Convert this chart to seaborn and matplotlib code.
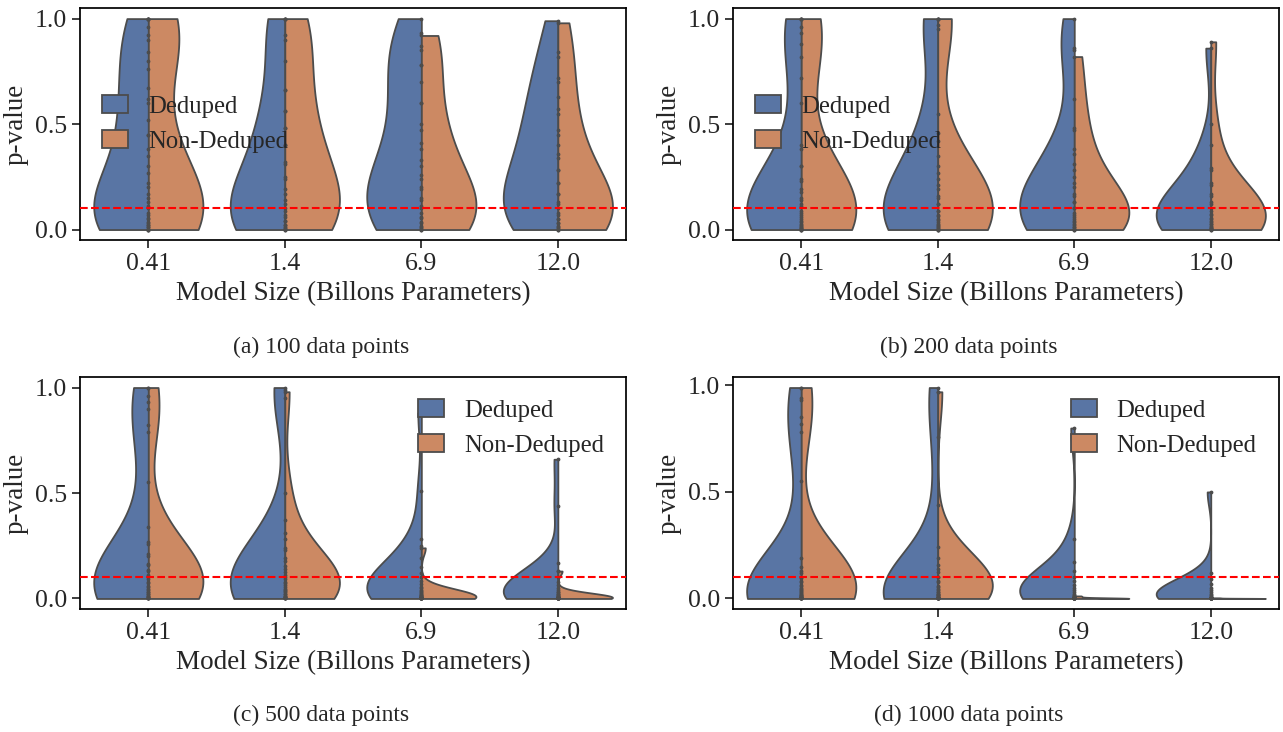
import matplotlib
matplotlib.use("Agg")
import matplotlib.pyplot as plt
import seaborn as sns
import pandas as pd

# ---------------- data ----------------
sizes = ["0.41", "1.4", "6.9", "12.0"]
groups = ["Deduped", "Non-Deduped"]
captions = ["(a) 100 data points", "(b) 200 data points",
            "(c) 500 data points", "(d) 1000 data points"]
threshold = 0.1

# (a) 100 data points
a_041_d = [0.0, 0.0, 0.01, 0.02, 0.03, 0.05, 0.07, 0.1, 0.13, 0.17, 0.22, 0.3, 0.38, 0.45, 0.52, 0.6, 0.67, 0.76, 0.84, 0.92, 1.0, 1.0]
a_041_n = [0.0, 0.003, 0.01, 0.02, 0.035, 0.055, 0.08, 0.11, 0.15, 0.2, 0.27, 0.35, 0.45, 0.62, 0.8, 0.9, 0.96, 1.0, 1.0, 1.0]
a_14_d = [0.0, 0.003, 0.01, 0.02, 0.04, 0.06, 0.09, 0.12, 0.17, 0.24, 0.31, 0.4, 0.48, 0.56, 0.66, 0.9, 1.0, 1.0]
a_14_n = [0.0, 0.006, 0.02, 0.04, 0.07, 0.1, 0.14, 0.19, 0.25, 0.32, 0.4, 0.48, 0.56, 0.66, 0.8, 0.92, 1.0, 1.0]
a_69_d = [0.0, 0.01, 0.03, 0.06, 0.1, 0.14, 0.19, 0.24, 0.3, 0.38, 0.47, 0.6, 0.7, 0.78, 0.85, 0.93, 1.0]
a_69_n = [0.0, 0.006, 0.018, 0.035, 0.055, 0.08, 0.11, 0.15, 0.2, 0.26, 0.33, 0.41, 0.5, 0.6, 0.78, 0.87, 0.92]
a_120_d = [0.0, 0.01, 0.03, 0.05, 0.08, 0.12, 0.17, 0.22, 0.28, 0.34, 0.4, 0.47, 0.55, 0.63, 0.72, 0.82, 0.99]
a_120_n = [0.0, 0.005, 0.015, 0.03, 0.05, 0.07, 0.1, 0.13, 0.17, 0.22, 0.28, 0.36, 0.45, 0.57, 0.7, 0.84, 0.98]

# (b) 200 data points
b_041_d = [0.0, 0.0, 0.005, 0.01, 0.02, 0.035, 0.05, 0.07, 0.09, 0.12, 0.15, 0.19, 0.24, 0.3, 0.38, 0.6, 0.82, 0.93, 1.0, 1.0]
b_041_n = [0.0, 0.002, 0.008, 0.015, 0.025, 0.04, 0.06, 0.08, 0.11, 0.14, 0.18, 0.23, 0.3, 0.4, 0.72, 0.88, 0.96, 1.0, 1.0]
b_14_d = [0.0, 0.0, 0.006, 0.015, 0.028, 0.045, 0.065, 0.09, 0.12, 0.16, 0.21, 0.27, 0.35, 0.46, 0.55, 0.95, 1.0, 1.0]
b_14_n = [0.0, 0.003, 0.01, 0.02, 0.035, 0.05, 0.07, 0.09, 0.12, 0.15, 0.19, 0.24, 0.3, 0.42, 0.97, 1.0, 1.0]
b_69_d = [0.0, 0.004, 0.012, 0.025, 0.04, 0.06, 0.08, 0.1, 0.13, 0.16, 0.2, 0.25, 0.31, 0.38, 0.47, 0.85, 0.86, 1.0]
b_69_n = [0.0, 0.003, 0.01, 0.02, 0.035, 0.05, 0.07, 0.1, 0.13, 0.17, 0.22, 0.28, 0.36, 0.48, 0.62, 0.82]
b_120_d = [0.0, 0.002, 0.008, 0.016, 0.027, 0.04, 0.055, 0.075, 0.1, 0.13, 0.17, 0.22, 0.29, 0.4, 0.86]
b_120_n = [0.0, 0.002, 0.007, 0.014, 0.024, 0.036, 0.05, 0.068, 0.09, 0.12, 0.16, 0.21, 0.28, 0.5, 0.89]

# (c) 500 data points
c_041_d = [0.0, 0.0, 0.003, 0.01, 0.02, 0.03, 0.045, 0.06, 0.08, 0.1, 0.13, 0.16, 0.21, 0.27, 0.55, 0.79, 0.9, 0.96, 1.0]
c_041_n = [0.0, 0.002, 0.006, 0.012, 0.02, 0.03, 0.042, 0.056, 0.072, 0.09, 0.11, 0.135, 0.165, 0.2, 0.26, 0.34, 0.82, 0.93, 1.0]
c_14_d = [0.0, 0.0, 0.002, 0.006, 0.012, 0.02, 0.03, 0.042, 0.056, 0.072, 0.09, 0.11, 0.14, 0.18, 0.23, 0.28, 0.37, 0.95, 0.99, 1.0]
c_14_n = [0.0, 0.002, 0.007, 0.014, 0.023, 0.034, 0.047, 0.062, 0.08, 0.1, 0.125, 0.155, 0.19, 0.24, 0.31, 0.5, 0.98]
c_69_d = [0.0, 0.0, 0.001, 0.003, 0.006, 0.01, 0.015, 0.02, 0.03, 0.04, 0.055, 0.07, 0.085, 0.1, 0.12, 0.15, 0.19, 0.25, 0.28, 0.51, 0.88]
c_69_n = [0.0, 0.0, 0.0, 0.0, 0.0005, 0.001, 0.002, 0.003, 0.005, 0.008, 0.012, 0.018, 0.025, 0.035, 0.05, 0.24]
c_120_d = [0.0, 0.0, 0.0, 0.001, 0.003, 0.006, 0.01, 0.015, 0.02, 0.03, 0.04, 0.05, 0.065, 0.08, 0.1, 0.13, 0.17, 0.44, 0.66]
c_120_n = [0.0, 0.0, 0.0, 0.0, 0.0, 0.0005, 0.001, 0.002, 0.004, 0.006, 0.009, 0.013, 0.02, 0.03, 0.13]

# (d) 1000 data points
d_041_d = [0.0, 0.0, 0.0, 0.001, 0.003, 0.006, 0.01, 0.015, 0.02, 0.03, 0.04, 0.05, 0.065, 0.08, 0.1, 0.13, 0.55, 0.78, 0.85, 0.94, 0.99]
d_041_n = [0.0, 0.0, 0.002, 0.005, 0.01, 0.016, 0.024, 0.034, 0.046, 0.06, 0.076, 0.095, 0.12, 0.15, 0.19, 0.82, 0.93, 0.99]
d_14_d = [0.0, 0.0, 0.0, 0.001, 0.002, 0.004, 0.007, 0.01, 0.015, 0.02, 0.03, 0.04, 0.055, 0.075, 0.1, 0.14, 0.44, 0.76, 0.97, 0.99]
d_14_n = [0.0, 0.001, 0.004, 0.008, 0.014, 0.022, 0.032, 0.045, 0.06, 0.08, 0.1, 0.125, 0.155, 0.19, 0.24, 0.97]
d_69_d = [0.0, 0.0, 0.0, 0.001, 0.003, 0.006, 0.01, 0.015, 0.02, 0.03, 0.04, 0.05, 0.065, 0.08, 0.1, 0.13, 0.17, 0.28, 0.8]
d_69_n = [0.0, 0.0, 0.0, 0.0, 0.0, 0.0001, 0.0002, 0.0005, 0.001, 0.002, 0.004, 0.008, 0.012]
d_120_d = [0.0, 0.0, 0.0, 0.0, 0.001, 0.002, 0.004, 0.007, 0.01, 0.015, 0.02, 0.03, 0.04, 0.05, 0.07, 0.09, 0.12, 0.5]
d_120_n = [0.0, 0.0, 0.0, 0.0, 0.0, 0.0, 0.0001, 0.0003, 0.001, 0.002, 0.003]

panels = [
    [(a_041_d, a_041_n), (a_14_d, a_14_n), (a_69_d, a_69_n), (a_120_d, a_120_n)],
    [(b_041_d, b_041_n), (b_14_d, b_14_n), (b_69_d, b_69_n), (b_120_d, b_120_n)],
    [(c_041_d, c_041_n), (c_14_d, c_14_n), (c_69_d, c_69_n), (c_120_d, c_120_n)],
    [(d_041_d, d_041_n), (d_14_d, d_14_n), (d_69_d, d_69_n), (d_120_d, d_120_n)],
]
legend_locs = ["center left", "center left", "upper right", "upper right"]


def build_frame(panel):
    rows = []
    for size, (ded, non) in zip(sizes, panel):
        for v in ded:
            rows.append((size, groups[0], v))
        for v in non:
            rows.append((size, groups[1], v))
    return pd.DataFrame(rows, columns=["size", "group", "p"])


# ---------------- style ----------------
sns.set_theme(style="ticks", palette="deep")
plt.rcParams["font.family"] = ["Liberation Serif", "DejaVu Serif"]

fig = plt.figure(figsize=(12.83, 7.32), dpi=100)
W, H = 0.4256, 0.317
positions = [
    [0.0624, 0.672, W, H],
    [0.5713, 0.672, W, H],
    [0.0624, 0.168, W, H],
    [0.5713, 0.168, W, H],
]
caption_xy = [(0.25, 0.526), (0.755, 0.526), (0.25, 0.022), (0.755, 0.022)]

for i, panel in enumerate(panels):
    ax = fig.add_axes(positions[i])
    df = build_frame(panel)
    sns.violinplot(data=df, x="size", y="p", hue="group", order=sizes,
                   hue_order=groups, split=True, inner="point", cut=0,
                   density_norm="width", linewidth=1.3,
                   inner_kws=dict(s=3), ax=ax)
    ax.axhline(threshold, color="red", linestyle="--", linewidth=1.5, zorder=3)
    ax.set_xlabel("Model Size (Billons Parameters)", fontsize=19.5)
    ax.set_ylabel("p-value", fontsize=19.5)
    ax.set_yticks([0.0, 0.5, 1.0])
    ax.set_yticklabels(["0.0", "0.5", "1.0"])
    ax.tick_params(axis="both", labelsize=18.5)
    for sp in ax.spines.values():
        sp.set_color("black")
        sp.set_linewidth(1.25)
    handles, labels = ax.get_legend_handles_labels()
    if ax.get_legend() is not None:
        ax.get_legend().remove()
    ax.legend(handles, labels, loc=legend_locs[i], frameon=False,
              fontsize=17.8, handlelength=1.05, handleheight=0.75,
              handletextpad=0.8)
    fig.text(caption_xy[i][0], caption_xy[i][1], captions[i],
             ha="center", va="center", fontsize=17)

fig.savefig("out.png", dpi=100)
